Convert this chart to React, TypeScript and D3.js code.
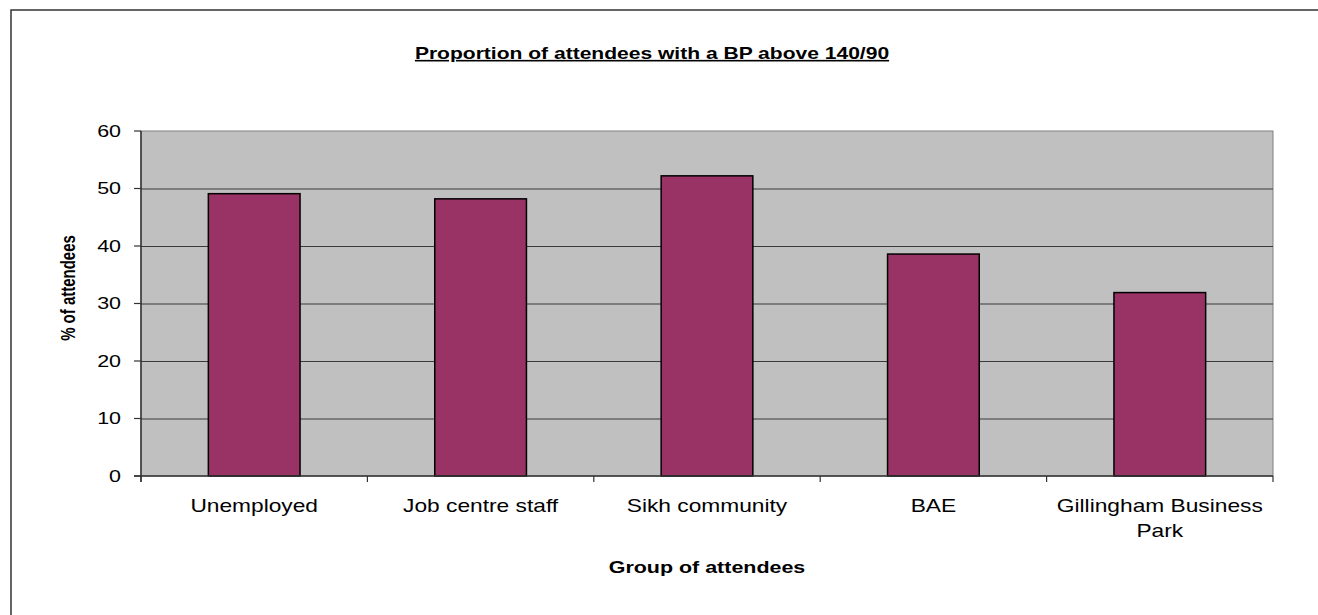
import React, { useEffect, useRef } from 'react';
import * as d3 from 'd3';

const categories = ['Unemployed', 'Job centre staff', 'Sikh community', 'BAE', 'Gillingham Business Park'];
const values = [49.1, 48.2, 52.2, 38.6, 31.9];
const yTicks = [0, 10, 20, 30, 40, 50, 60];

const chartTitle = 'Proportion of attendees with a BP above 140/90';
const xTitle = 'Group of attendees';
const yTitle = '% of attendees';

const W = 1318;
const H = 615;
const SX = 1.3; // the source picture is stretched sideways
const FONT = '"Liberation Sans", Arial, sans-serif';

const App: React.FC = () => {
  const svgRef = useRef<SVGSVGElement>(null);

  useEffect(() => {
    if (!svgRef.current) return;
    const svg = d3.select(svgRef.current);
    svg.selectAll('*').remove();

    const left = 141, right = 1273, top = 131, bottom = 476;

    const x = d3.scaleBand<string>().domain(categories).range([left, right]).paddingInner(0).paddingOuter(0);
    const y = d3.scaleLinear().domain([0, 60]).range([bottom, top]);

    // outer frame (top + left only visible)
    svg.append('path')
      .attr('d', `M11,${H} L11,10 L${W},10`)
      .attr('fill', 'none')
      .attr('stroke', '#333')
      .attr('stroke-width', 1.5);

    // plot area
    svg.append('rect')
      .attr('x', left).attr('y', top)
      .attr('width', right - left).attr('height', bottom - top)
      .attr('fill', '#c0c0c0')
      .attr('stroke', '#808080')
      .attr('stroke-width', 1);

    // gridlines
    svg.append('g')
      .selectAll('line')
      .data(yTicks.filter(t => t > 0 && t < 60))
      .join('line')
      .attr('x1', left).attr('x2', right)
      .attr('y1', d => y(d) + 0.5).attr('y2', d => y(d) + 0.5)
      .attr('stroke', '#3a3a3a')
      .attr('stroke-width', 1);

    // bars
    const bw = x.bandwidth() * 0.405;
    svg.append('g')
      .selectAll('rect')
      .data(categories)
      .join('rect')
      .attr('x', d => x(d)! + (x.bandwidth() - bw) / 2)
      .attr('y', (d, i) => y(values[i]))
      .attr('width', bw)
      .attr('height', (d, i) => y(0) - y(values[i]))
      .attr('fill', '#993366')
      .attr('stroke', '#000')
      .attr('stroke-width', 1.5);

    // axes lines
    svg.append('line')
      .attr('x1', left).attr('x2', left).attr('y1', top).attr('y2', bottom + 6)
      .attr('stroke', '#333').attr('stroke-width', 1.5);
    svg.append('line')
      .attr('x1', left - 7).attr('x2', right).attr('y1', bottom).attr('y2', bottom)
      .attr('stroke', '#333').attr('stroke-width', 1.5);

    // y ticks
    const yg = svg.append('g');
    yg.selectAll('line')
      .data(yTicks)
      .join('line')
      .attr('x1', left - 7).attr('x2', left)
      .attr('y1', d => y(d)).attr('y2', d => y(d))
      .attr('stroke', '#333').attr('stroke-width', 1.2);
    yg.selectAll('text')
      .data(yTicks)
      .join('text')
      .attr('transform', d => `translate(121,${y(d)}) scale(${SX},1)`)
      .attr('text-anchor', 'end')
      .attr('dy', '0.36em')
      .attr('font-family', FONT)
      .attr('font-size', 16.5)
      .attr('fill', '#000')
      .text(d => d);

    // x ticks at band edges
    const edges = categories.map(c => x(c)!).concat([right]);
    svg.append('g')
      .selectAll('line')
      .data(edges)
      .join('line')
      .attr('x1', d => d).attr('x2', d => d)
      .attr('y1', bottom).attr('y2', bottom + 6)
      .attr('stroke', '#333').attr('stroke-width', 1.2);

    // x labels with wrapping
    const xl = svg.append('g');
    categories.forEach(c => {
      const cx = x(c)! + x.bandwidth() / 2;
      const g = xl.append('g').attr('transform', `translate(${cx},512) scale(${SX},1)`);
      const t = g.append('text')
        .attr('text-anchor', 'middle')
        .attr('font-family', FONT)
        .attr('font-size', 17.5)
        .attr('fill', '#000');
      const words = c.split(' ');
      const maxW = (x.bandwidth() * 0.95) / SX;
      let line: string[] = [];
      let lineNo = 0;
      let tspan = t.append('tspan').attr('x', 0).attr('dy', 0);
      words.forEach(w => {
        line.push(w);
        tspan.text(line.join(' '));
        const node = tspan.node() as SVGTextContentElement;
        if (node.getComputedTextLength() > maxW && line.length > 1) {
          line.pop();
          tspan.text(line.join(' '));
          line = [w];
          lineNo++;
          tspan = t.append('tspan').attr('x', 0).attr('dy', 25).text(w);
        }
      });
    });

    // title
    svg.append('text')
      .attr('transform', `translate(652,59) scale(${SX},1)`)
      .attr('text-anchor', 'middle')
      .attr('font-family', FONT)
      .attr('font-weight', 'bold')
      .attr('font-size', 16.2)
      .attr('text-decoration', 'underline')
      .attr('fill', '#000')
      .text(chartTitle);

    // axis titles
    svg.append('text')
      .attr('transform', `translate(707,573) scale(${SX},1)`)
      .attr('text-anchor', 'middle')
      .attr('font-family', FONT)
      .attr('font-weight', 'bold')
      .attr('font-size', 16.5)
      .attr('fill', '#000')
      .text(xTitle);

    svg.append('text')
      .attr('transform', `translate(75,288) scale(${SX},1) rotate(-90)`)
      .attr('text-anchor', 'middle')
      .attr('font-family', FONT)
      .attr('font-weight', 'bold')
      .attr('font-size', 15)
      .attr('fill', '#000')
      .text(yTitle);
  }, []);

  return (
    <svg
      ref={svgRef}
      width={W}
      height={H}
      viewBox={`0 0 ${W} ${H}`}
      style={{ position: 'absolute', left: 0, top: 0, background: '#fff', display: 'block' }}
    />
  );
};

export default App;
